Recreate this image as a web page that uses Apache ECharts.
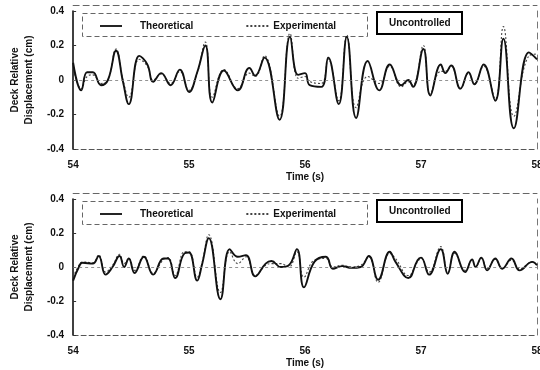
<!DOCTYPE html>
<html>
<head>
<meta charset="utf-8">
<script src="https://cdn.jsdelivr.net/npm/echarts@6/dist/echarts.min.js"></script>
<style>
html, body { margin: 0; padding: 0; background: #fff; overflow: hidden; }
#chart { width: 560px; height: 370px; }
</style>
</head>
<body>
<div id="chart"></div>
<script>
// upper panel
const topTime = [54.00, 54.07, 54.12, 54.17, 54.24, 54.30, 54.37, 54.43, 54.48, 54.57, 54.64, 54.69, 54.76, 54.84, 54.92, 55.00, 55.07, 55.14, 55.20, 55.30, 55.42, 55.52, 55.57, 55.65, 55.78, 55.87, 55.94, 56.00, 56.04, 56.14, 56.20, 56.29, 56.36, 56.44, 56.54, 56.64, 56.73, 56.83, 56.89, 56.93, 57.02, 57.08, 57.17, 57.21, 57.26, 57.34, 57.41, 57.46, 57.54, 57.64, 57.71, 57.80, 57.93, 58.00];
const topTheoretical = [0.10, -0.06, 0.045, 0.045, -0.03, 0.00, 0.17, -0.01, -0.14, 0.14, 0.09, -0.01, 0.04, -0.03, 0.06, -0.07, 0.045, 0.20, -0.13, 0.055, -0.06, 0.07, 0.025, 0.13, -0.23, 0.25, 0.03, 0.04, -0.03, -0.04, 0.13, -0.14, 0.25, -0.22, 0.11, -0.06, 0.09, -0.03, 0.00, -0.04, 0.18, -0.09, 0.09, 0.04, 0.085, -0.05, 0.045, -0.025, 0.09, -0.12, 0.24, -0.28, 0.16, 0.12];
const topExperimental = [0.08, -0.05, 0.02, 0.03, -0.02, 0.00, 0.18, 0.00, -0.10, 0.12, 0.08, 0.00, 0.035, -0.02, 0.05, -0.06, 0.04, 0.22, -0.10, 0.06, -0.05, 0.04, 0.02, 0.14, -0.21, 0.27, 0.01, 0.02, -0.01, -0.02, 0.12, -0.12, 0.26, -0.16, 0.02, -0.02, 0.08, -0.04, -0.01, -0.03, 0.20, -0.08, 0.05, 0.05, 0.08, -0.05, 0.04, -0.02, 0.08, -0.11, 0.31, -0.21, 0.14, 0.15];

// lower panel
const bottomTime = [54.00, 54.05, 54.08, 54.17, 54.22, 54.28, 54.34, 54.40, 54.44, 54.48, 54.53, 54.61, 54.69, 54.78, 54.82, 54.88, 54.96, 55.00, 55.07, 55.11, 55.17, 55.27, 55.35, 55.42, 55.49, 55.57, 55.66, 55.71, 55.79, 55.86, 55.93, 55.99, 56.08, 56.18, 56.24, 56.32, 56.40, 56.48, 56.55, 56.63, 56.73, 56.78, 56.89, 56.97, 57.00, 57.07, 57.17, 57.23, 57.29, 57.38, 57.44, 57.47, 57.52, 57.57, 57.64, 57.70, 57.78, 57.85, 57.96, 58.00];
const bottomTheoretical = [-0.08, 0.00, 0.025, 0.02, 0.065, -0.045, 0.00, 0.065, 0.00, 0.05, -0.035, 0.06, -0.045, 0.05, 0.05, -0.065, 0.08, 0.085, -0.08, 0.01, 0.17, -0.19, 0.105, 0.06, 0.07, -0.055, 0.02, 0.035, 0.00, 0.01, 0.105, -0.12, 0.03, 0.06, -0.01, 0.005, -0.005, 0.00, 0.065, -0.075, 0.09, 0.03, -0.065, 0.04, 0.055, -0.045, 0.105, -0.04, 0.09, -0.03, 0.045, 0.00, 0.055, -0.02, 0.05, -0.01, 0.05, -0.02, 0.03, 0.01];
const bottomExperimental = [-0.06, 0.01, 0.03, 0.025, 0.07, -0.03, 0.01, 0.075, 0.02, 0.05, -0.02, 0.065, -0.035, 0.045, 0.055, -0.05, 0.09, 0.09, -0.06, 0.02, 0.19, -0.15, 0.09, 0.02, 0.06, -0.05, 0.01, 0.02, 0.02, 0.00, 0.09, -0.06, 0.04, 0.05, 0.00, 0.01, 0.00, 0.01, 0.06, -0.09, 0.08, 0.05, -0.05, 0.03, 0.05, -0.03, 0.12, -0.03, 0.08, -0.02, 0.04, 0.00, 0.05, -0.01, 0.045, -0.01, 0.04, -0.01, 0.03, 0.01];

const seriesNames = ['Theoretical', 'Experimental'];
const caseLabel = 'Uncontrolled';
const xName = 'Time (s)';
const yName = 'Deck Relative\nDisplacement (cm)';

const FONT = '"Liberation Sans", Arial, sans-serif';
const boldText = { fontFamily: FONT, fontWeight: 'bold', fontSize: 10, color: '#111' };

// legend swatches: a plain bar and a row of short dashes
const SOLID_ICON = 'path://M0 0h24v2h-24z';
const DOTTED_ICON = 'path://M0 0h2v2h-2z M4 0h2v2h-2z M8 0h2v2h-2z M12 0h2v2h-2z M16 0h2v2h-2z M20 0h2v2h-2z';

const panels = [
    { time: topTime, theo: topTheoretical, exp: topExperimental, top: 11, height: 138 },
    { time: bottomTime, theo: bottomTheoretical, exp: bottomExperimental, top: 199, height: 136 }
];

const zip = (xs, ys) => xs.map((x, i) => [x, ys[i]]);

const chart = echarts.init(document.getElementById('chart'), null, { renderer: 'canvas' });

const grid = panels.map(p => ({ left: 71, right: 23, top: p.top, height: p.height }));

const xAxis = [];
const yAxis = [];
const series = [];
const legend = [];
const title = [];
const graphic = [];

panels.forEach((p, i) => {
    xAxis.push({
        type: 'value', gridIndex: i, min: 54, max: 58, interval: 1,
        axisLine: { onZero: false, lineStyle: { color: '#555', width: 1, type: [5, 3] } },
        axisTick: { show: false },
        splitLine: { show: false },
        axisLabel: { ...boldText, margin: 11 },
        name: xName, nameLocation: 'middle', nameGap: 23,
        nameTextStyle: { ...boldText }
    });
    xAxis.push({
        type: 'value', gridIndex: i, min: 54, max: 58, position: 'top', offset: 6,
        axisLine: { onZero: false, lineStyle: { color: '#666', width: 1, type: [6, 4] } },
        axisTick: { show: false }, axisLabel: { show: false }, splitLine: { show: false }
    });
    yAxis.push({
        type: 'value', gridIndex: i, min: -0.4, max: 0.4, interval: 0.2,
        axisLine: { onZero: false, lineStyle: { color: '#000', width: 1.5 } },
        axisTick: { show: true, inside: true, length: 3, lineStyle: { color: '#333' } },
        splitLine: { show: false },
        axisLabel: { ...boldText, margin: 9, formatter: v => (Math.abs(v) < 1e-9 ? '0' : v.toFixed(1)) },
        name: yName, nameLocation: 'middle', nameGap: 36, nameRotate: 90,
        nameTextStyle: { ...boldText, lineHeight: 14 }
    });
    yAxis.push({
        type: 'value', gridIndex: i, min: -0.4, max: 0.4, position: 'right',
        axisLine: { onZero: false, lineStyle: { color: '#777', width: 1, type: [6, 5] } },
        axisTick: { show: false }, axisLabel: { show: false }, splitLine: { show: false }
    });

    series.push({
        name: seriesNames[0], type: 'line', xAxisIndex: i * 2, yAxisIndex: i * 2,
        data: zip(p.time, p.theo), smooth: 0.45, symbol: 'none',
        lineStyle: { color: '#111', width: 1.9 },
        itemStyle: { color: '#111' },
        z: 3,
        markLine: {
            silent: true, symbol: 'none', label: { show: false },
            lineStyle: { color: '#777', width: 0.8, type: [3, 3] },
            data: [{ yAxis: 0 }]
        }
    });
    series.push({
        name: seriesNames[1], type: 'line', xAxisIndex: i * 2, yAxisIndex: i * 2,
        data: zip(p.time, p.exp), smooth: 0.45, symbol: 'none',
        lineStyle: { color: '#444', width: 1.1, type: [2, 2] },
        itemStyle: { color: '#444' },
        z: 2
    });

    legend.push({
        data: [
            { name: seriesNames[0], icon: SOLID_ICON, textStyle: { padding: [0, 0, 0, 13] } },
            { name: seriesNames[1], icon: DOTTED_ICON, textStyle: { padding: [0, 0, 0, 0] } }
        ],
        left: 95, top: p.top + 5,
        itemWidth: 22, itemHeight: 2, itemGap: 53,
        textStyle: { ...boldText }
    });
    title.push({
        text: caseLabel, left: 377, top: p.top + 1,
        borderColor: '#000', borderWidth: 2,
        padding: [6, 12, 6, 12],
        textStyle: { ...boldText, fontSize: 10 }
    });
    graphic.push({
        type: 'rect', left: 80, top: p.top,
        shape: { width: 285, height: 23 },
        style: { fill: 'none', stroke: '#666', lineWidth: 1, lineDash: [5, 3] }
    });
});

chart.setOption({
    backgroundColor: '#fff',
    animation: false,
    grid, xAxis, yAxis, series, legend, title, graphic
});
</script>
</body>
</html>
